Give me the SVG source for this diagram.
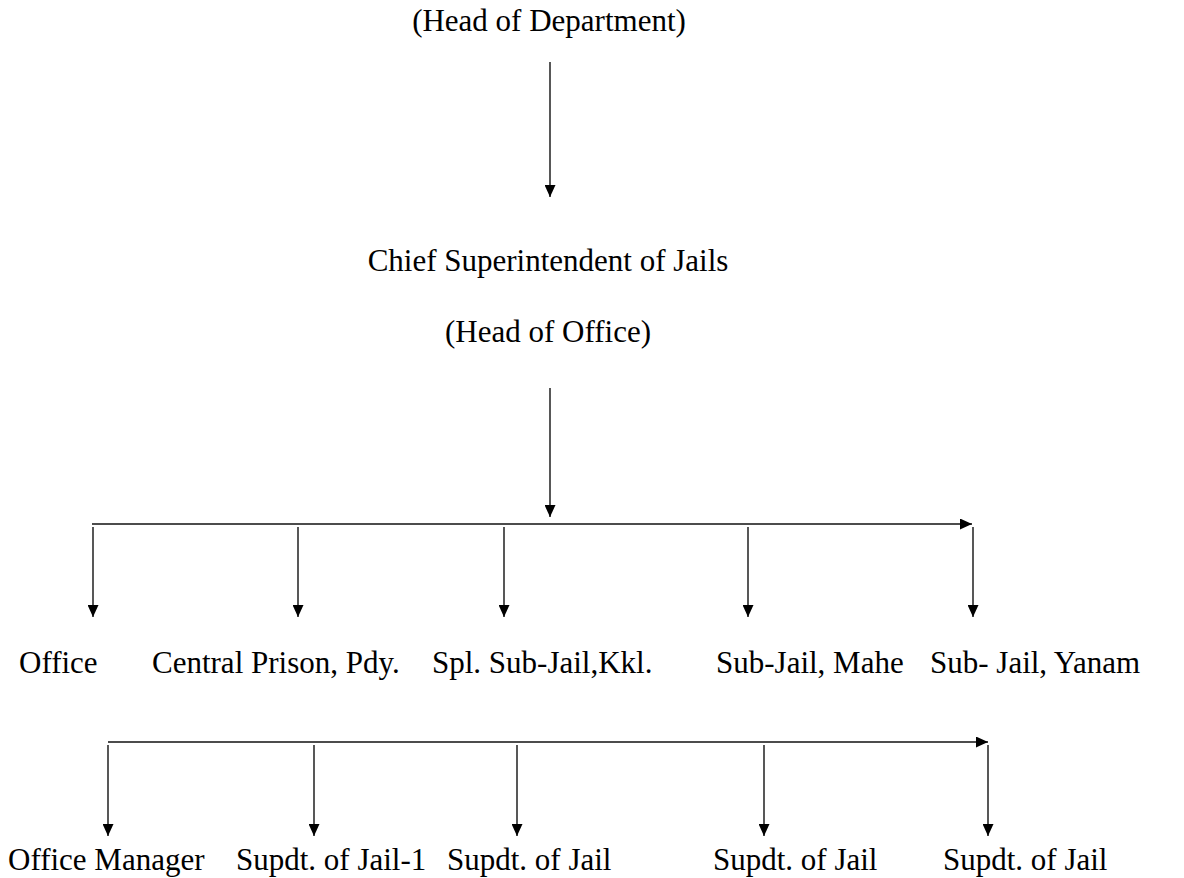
<svg xmlns="http://www.w3.org/2000/svg" width="1184" height="878" viewBox="0 0 1184 878">
<style>
text{font-family:"Liberation Serif","Times New Roman",serif;font-size:31px;fill:#000}
.c{text-anchor:middle}
.ln{stroke:#111;stroke-width:1.4;fill:none}
</style>
<defs>
<marker id="ah" viewBox="0 0 12 11" refX="12" refY="5.5" markerWidth="12" markerHeight="11" orient="auto" markerUnits="userSpaceOnUse">
<path d="M0,0 L12,5.5 L0,11 z" fill="#000"/>
</marker>
</defs>
<rect width="1184" height="878" fill="#fff"/>
<g id="hod"><text class="c" x="549" y="31">(Head of Department)</text></g>
<g id="csj"><text class="c" x="548" y="271">Chief Superintendent of Jails</text><text class="c" x="548" y="342">(Head of Office)</text></g>
<g id="office"><text x="19" y="673">Office</text></g>
<g id="cp"><text x="152" y="673">Central Prison, Pdy.</text></g>
<g id="ssj"><text x="432" y="673">Spl. Sub-Jail,Kkl.</text></g>
<g id="sjm"><text x="716" y="673">Sub-Jail, Mahe</text></g>
<g id="sjy"><text x="930" y="673">Sub- Jail, Yanam</text></g>
<g id="om"><text x="8" y="870">Office Manager</text></g>
<g id="s1"><text x="236" y="870">Supdt. of Jail-1</text></g>
<g id="s2"><text x="447" y="870">Supdt. of Jail</text></g>
<g id="s3"><text x="713" y="870">Supdt. of Jail</text></g>
<g id="s4"><text x="943" y="870">Supdt. of Jail</text></g>
<g id="connectors" class="ln">
<line class="ln" x1="550" y1="62" x2="550" y2="197" marker-end="url(#ah)"/>
<line class="ln" x1="550" y1="388" x2="550" y2="517" marker-end="url(#ah)"/>
<line class="ln" x1="92" y1="524" x2="972" y2="524" marker-end="url(#ah)"/>
<line class="ln" x1="93" y1="527" x2="93" y2="617" marker-end="url(#ah)"/>
<line class="ln" x1="298" y1="527" x2="298" y2="617" marker-end="url(#ah)"/>
<line class="ln" x1="504" y1="527" x2="504" y2="617" marker-end="url(#ah)"/>
<line class="ln" x1="748" y1="527" x2="748" y2="617" marker-end="url(#ah)"/>
<line class="ln" x1="973" y1="527" x2="973" y2="617" marker-end="url(#ah)"/>
<line class="ln" x1="108" y1="742" x2="988" y2="742" marker-end="url(#ah)"/>
<line class="ln" x1="108" y1="745" x2="108" y2="836" marker-end="url(#ah)"/>
<line class="ln" x1="314" y1="745" x2="314" y2="836" marker-end="url(#ah)"/>
<line class="ln" x1="517" y1="745" x2="517" y2="836" marker-end="url(#ah)"/>
<line class="ln" x1="764" y1="745" x2="764" y2="836" marker-end="url(#ah)"/>
<line class="ln" x1="988" y1="745" x2="988" y2="836" marker-end="url(#ah)"/>
</g>
</svg>
